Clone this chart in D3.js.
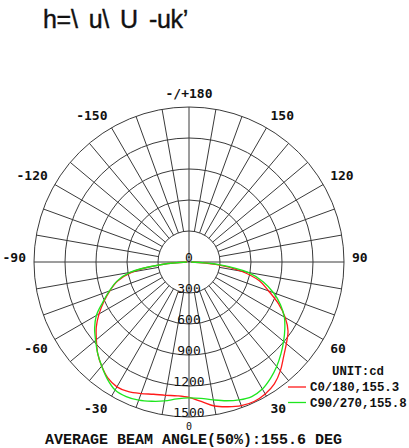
<!DOCTYPE html>
<html><head><meta charset="utf-8">
<script src="https://cdn.jsdelivr.net/npm/d3@7/dist/d3.min.js"></script>
<style>html,body{margin:0;padding:0;background:#fff;}svg{display:block;}</style>
</head><body>
<svg id="c" width="409" height="448"></svg>
<script>
const title = "h=\\ u\\ U -uk\u2019";
const angles = [-90,-85,-80,-75,-70,-65,-60,-55,-50,-45,-40,-35,-30,-25,-20,-15,-10,-5,0,5,10,15,20,25,30,35,40,45,50,55,60,65,70,75,80,85,90];
const c0Values = [20,250,560,715,815,910,1005,1095,1170,1250,1315,1370,1395,1385,1355,1325,1310,1300,1310,1355,1415,1450,1480,1490,1475,1440,1375,1295,1230,1170,1075,955,820,705,515,260,20];
const c90Values = [20,250,580,725,820,920,1035,1115,1180,1250,1315,1380,1430,1437,1423,1395,1365,1330,1315,1325,1355,1390,1420,1437,1420,1375,1320,1258,1195,1132,1065,977,870,745,580,290,20];
const ringValues = [300,600,900,1200,1500];
const ringLabels = ["0","300","600","900","1200","1500"];
const angleTicks = [180,150,120,90,60,30,0,-30,-60,-90,-120,-150];
const angleTickLabels = ["-/+180","150","120","90","60","30","0","-30","-60","-90","-120","-150"];
const seriesNames = ["C0/180,155.3","C90/270,155.8"];
const seriesColors = ["#ff1a1a","#1ee61e"];
const unitText = "UNIT:cd";
const footer = "AVERAGE BEAM ANGLE(50%):155.6 DEG";

const cx = 189, cy = 262, R = 155;
const svg = d3.select("#c");
const r = d3.scaleLinear().domain([0,1500]).range([0,R]);
const ang = d3.scaleLinear().domain([0,180]).range([Math.PI, 0]);

svg.append("text").attr("x",43).attr("y",28)
  .attr("font-family","Liberation Sans, Arial, sans-serif").attr("font-size",25)
  .attr("word-spacing",4.5).attr("letter-spacing",-0.3)
  .attr("fill","#111").attr("stroke","#111").attr("stroke-width",0.4).text(title);

const g = svg.append("g").attr("transform",`translate(${cx},${cy})`);
const gridColor = "#3a3a3a";
g.selectAll("circle.ring").data(ringValues).join("circle")
  .attr("r", d=>r(d)).attr("fill","none").attr("stroke",gridColor).attr("stroke-width",1);
const spokes = d3.range(-170,181,10);
g.selectAll("line.spoke").data(spokes).join("line")
  .attr("x1", d => (d%90===0 ? 0 : r(300))*Math.sin(d*Math.PI/180))
  .attr("y1", d => (d%90===0 ? 0 : r(300))*Math.cos(d*Math.PI/180))
  .attr("x2", d => R*Math.sin(d*Math.PI/180))
  .attr("y2", d => R*Math.cos(d*Math.PI/180))
  .attr("stroke",gridColor).attr("stroke-width",1);

g.selectAll("text.rl").data(ringLabels).join("text")
  .attr("x",0).attr("y",(d)=>r(+d))
  .attr("text-anchor","middle")
  .attr("font-family","DejaVu Sans Mono, monospace").attr("font-size",13)
  .attr("fill","#111").text(d=>d);

const rl = 163;
g.selectAll("text.al").data(angleTicks).join("text")
  .attr("x", d => rl*Math.sin(d*Math.PI/180))
  .attr("y", d => {
    const c = Math.cos(d*Math.PI/180);
    if (c < -0.01) return rl*c - 1;
    if (c > 0.01) return d === 0 ? rl*c + 5 : rl*c + 9.5;
    return 0;
  })
  .attr("text-anchor", d => {
    const s = Math.sin(d*Math.PI/180);
    return s > 0.01 ? "start" : (s < -0.01 ? "end" : "middle");
  })
  .attr("font-family","DejaVu Sans Mono, monospace").attr("font-weight", d => d===0 ? "normal" : "bold")
  .attr("font-size", d => d===0 ? 10 : 13)
  .attr("fill","#111").text((d,i)=>angleTickLabels[i]);

const line = d3.lineRadial().angle(d=>ang(d[0])).radius(d=>r(d[1])).curve(d3.curveCatmullRom);
[c0Values, c90Values].forEach((vals,i)=>{
  g.append("path").datum(angles.map((a,j)=>[a,vals[j]]))
    .attr("d", line).attr("fill","none").attr("stroke",seriesColors[i]).attr("stroke-width",1.3);
});

const mono = "Liberation Mono, Courier New, monospace";
svg.append("text").attr("x",332).attr("y",374.5).attr("font-family",mono).attr("font-weight","bold")
  .attr("font-size",12.4).attr("fill","#111").text(unitText);
seriesNames.forEach((n,i)=>{
  const y = 387 + i*15.5;
  svg.append("line").attr("x1",288).attr("x2",306).attr("y1",y).attr("y2",y)
    .attr("stroke",seriesColors[i]).attr("stroke-width",1.3);
  svg.append("text").attr("x",310).attr("y",y+4).attr("font-family",mono).attr("font-weight","bold")
    .attr("font-size",12.4).attr("fill","#111").text(n);
});
svg.append("text").attr("x",45).attr("y",443.5).attr("font-family",mono).attr("font-weight","bold")
  .attr("font-size",15).attr("fill","#111").text(footer);
</script>
</body></html>
